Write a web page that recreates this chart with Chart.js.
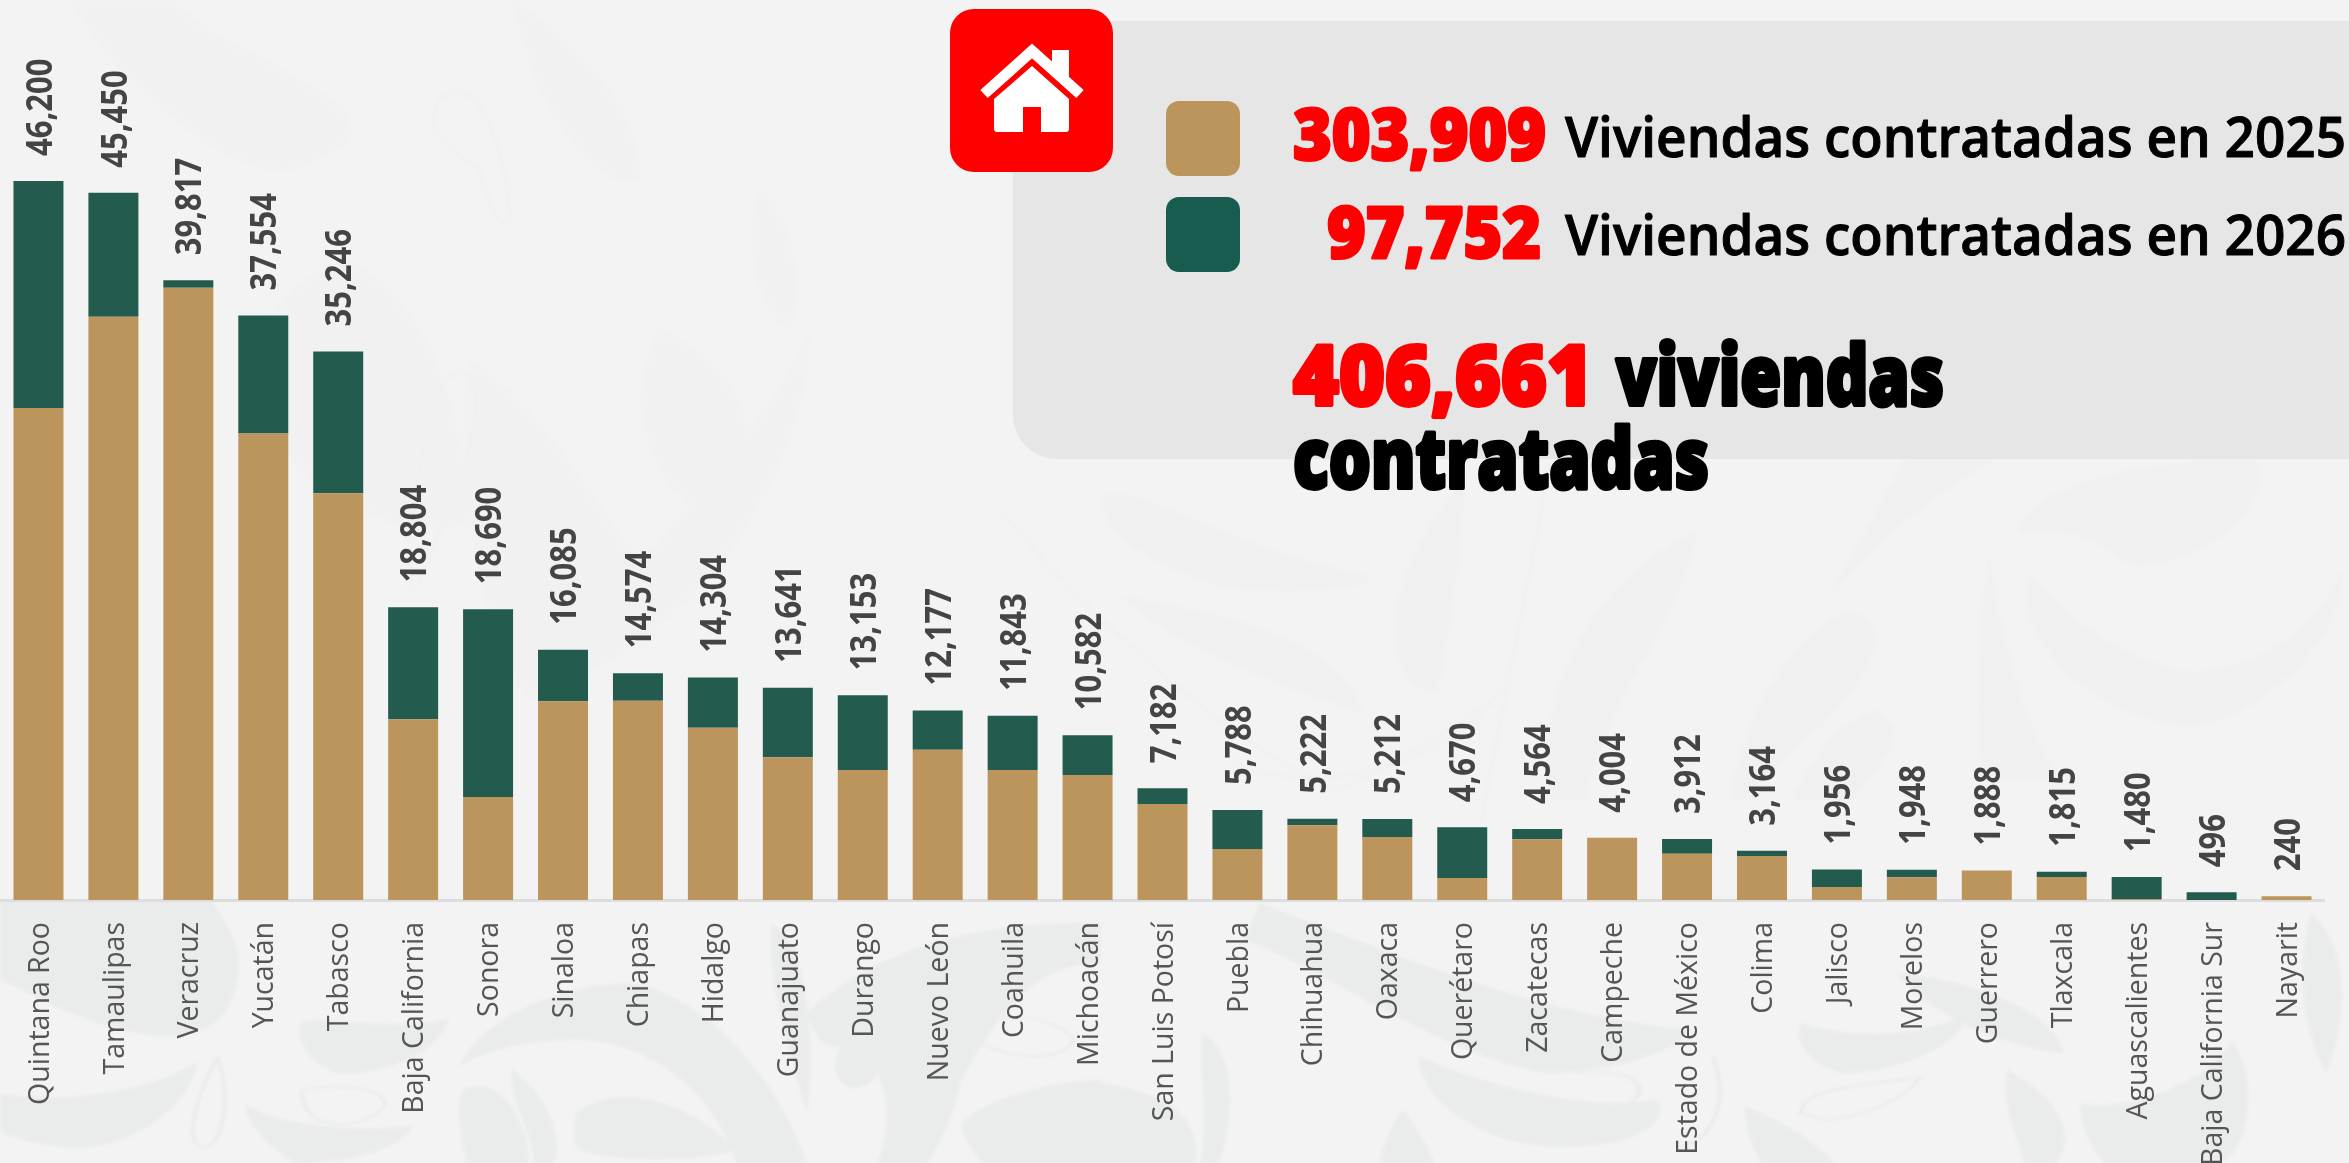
<!DOCTYPE html>
<html lang="es">
<head>
<meta charset="utf-8">
<title>Viviendas contratadas</title>
<script src="https://cdn.jsdelivr.net/npm/chart.js@4"></script>
<style>
html,body{margin:0;padding:0;background:#f3f3f3;overflow:hidden}
#stage{position:relative;width:2349px;height:1163px;overflow:hidden;background:#f3f3f3}
#stage svg,#stage canvas{position:absolute;left:0;top:0}
</style>
</head>
<body>
<div id="stage">
<svg id="bg" width="2349" height="1163" viewBox="0 0 2349 1163" aria-hidden="true">
  <defs><filter id="soft" x="-5%" y="-5%" width="110%" height="110%"><feGaussianBlur stdDeviation="1.5"/></filter></defs>
  <g filter="url(#soft)">
  <g fill="#f1f1f1" stroke="none">
    <path d="M210 30C320 90 420 130 290 170C220 180 100 60 70 0H170Z"/>
    <path d="M515 0C600 60 640 120 640 180C600 200 520 90 515 0Z"/>
    <path d="M350 260C420 300 460 380 470 520C400 560 250 460 250 380C260 310 300 270 350 260Z"/>
    <path d="M470 360C560 420 600 520 640 560C700 500 780 400 810 330C810 470 700 640 530 700C480 640 450 470 470 360Z"/>
    <path d="M660 330C740 360 780 450 720 520C650 500 620 400 660 330Z"/>
    <path d="M760 190C800 220 800 300 790 330C760 320 740 240 760 190Z"/>
  </g>
  <g fill="none" stroke="#f0f0f0" stroke-width="2.5">
    <path d="M440 100C470 70 500 120 510 215C505 235 490 215 480 170C450 150 420 130 440 100Z"/>
    <path d="M460 372C490 380 480 440 420 580C400 620 410 500 430 420C440 390 445 372 460 372Z"/>
    <path d="M1000 510C1100 630 1250 760 1340 790C1400 760 1500 700 1500 690C1450 770 1300 800 1230 760"/>
    <path d="M1550 460C1520 640 1480 800 1470 900"/>
  </g>
  <g transform="translate(1000 440) scale(.8603 .3333)" fill="#f0f0f0">
    <path d="M120 170C170 130 240 300 430 410C430 450 330 470 260 440C170 380 110 260 120 170Z"/>
    <path d="M140 470C260 510 410 620 420 820C350 760 200 620 140 470Z"/>
    <path d="M460 600C450 400 520 160 540 130C540 300 520 600 510 750C480 770 460 680 460 600Z"/>
    <path d="M640 1080C620 700 700 400 810 275C800 500 700 800 680 1080Z"/>
    <path d="M850 1080C860 800 940 530 990 515C1040 540 1020 700 950 870C900 950 880 1080 880 1080Z"/>
    <path d="M920 1080C950 900 1000 810 1020 815C1060 870 1030 960 990 1080Z"/>
    <path d="M1195 400C1230 500 1310 690 1390 695C1470 680 1530 560 1560 390C1570 600 1450 860 1380 860C1280 840 1170 600 1195 400Z"/>
    <path d="M1185 275C1190 130 1350 50 1460 60C1480 220 1400 360 1320 380C1280 330 1270 260 1185 275Z"/>
    <path d="M1140 1000C1130 800 1140 500 1150 330C1160 600 1200 900 1230 1015C1190 1020 1160 1020 1140 1000Z"/>
    <path d="M1200 0C1100 120 1020 300 960 480C1000 300 1040 120 1060 0Z"/>
  </g>
  <g transform="translate(0 780) scale(.7017 .3333)" fill="#eaebeb">
    <path d="M0 360H300C330 440 345 520 340 580C330 700 310 760 240 770C130 760 30 620 0 600Z"/>
    <path d="M0 940C100 980 230 920 280 845C280 950 200 1100 110 1105C50 1100 0 1060 0 1050Z"/>
    <path d="M350 975C400 1040 520 1060 590 1035C570 1110 500 1149 420 1149C380 1100 350 1020 350 975Z"/>
    <path d="M430 730C450 700 560 760 640 715C630 800 560 890 480 880C440 850 420 780 430 730Z"/>
    <path d="M655 860C680 730 790 610 900 610C990 640 1100 850 1150 1149H1050C1030 1000 950 780 820 780C740 780 680 820 655 860Z"/>
    <path d="M660 930C700 890 745 960 755 1149H665C655 1060 650 980 660 930Z"/>
    <path d="M730 870C790 960 800 1090 790 1149H760C760 1050 720 950 730 870Z"/>
    <path d="M820 1000C880 900 980 960 1050 1110C1000 1149 850 1149 820 1100Z"/>
    <path d="M1150 700C1250 500 1400 420 1568 430V550C1450 550 1400 800 1370 900C1360 1000 1340 1100 1320 1149H1250C1280 1000 1260 800 1190 800C1170 800 1160 760 1150 700Z"/>
    <path d="M1190 870C1195 700 1250 780 1250 880C1240 930 1200 950 1190 870Z"/>
    <path d="M1370 1030C1400 960 1500 900 1568 900V1149H1400C1380 1100 1370 1060 1370 1030Z"/>
    <path d="M1100 430C1150 480 1165 800 1150 1000C1130 850 1090 600 1100 430Z"/>
  </g>
  <g transform="translate(0 780) scale(.7017 .3333)" fill="none" stroke="#e9eaea" stroke-width="5">
    <path d="M310 830C330 950 320 1090 290 1105C260 1090 280 950 310 830Z"/>
    <path d="M430 930C520 900 580 950 530 1010C480 1060 430 1030 430 930Z"/>
    <path d="M1370 750C1420 690 1500 700 1530 780C1520 840 1430 860 1370 750Z"/>
  </g>
  <g transform="translate(1100 780) scale(.7966 .3333)" fill="#eaebeb">
    <path d="M200 370C300 450 520 700 740 750C720 830 620 880 560 880C420 820 280 560 180 480Z"/>
    <path d="M400 830C470 900 600 1000 700 960C720 1050 650 1110 560 1100C470 1080 400 950 400 830Z"/>
    <path d="M880 730C960 790 1040 760 1090 700C1080 800 1000 880 930 880C890 850 870 790 880 730Z"/>
    <path d="M0 910C70 930 130 1000 120 1149H0Z"/>
    <path d="M130 760C170 820 170 1000 150 1149H125C140 1000 120 850 130 760Z"/>
    <path d="M380 990C400 1040 420 1149 420 1149H350C360 1060 370 1020 380 990Z"/>
    <path d="M810 980C840 1000 910 1100 920 1149H830C810 1060 810 1020 810 980Z"/>
    <path d="M1140 870C1200 950 1230 1060 1200 1149H1160C1150 1060 1130 970 1140 870Z"/>
    <path d="M1230 970C1290 1000 1400 900 1420 780C1460 900 1440 1149 1400 1149H1260C1240 1090 1230 1030 1230 970Z"/>
    <path d="M1000 580C1100 600 1200 700 1210 820C1130 800 1040 700 1000 580Z"/>
    <path d="M1520 400C1568 500 1568 700 1540 880C1510 760 1500 560 1520 400Z"/>
  </g>
  <g transform="translate(1100 780) scale(.7966 .3333)" fill="none" stroke="#e9eaea" stroke-width="5">
    <path d="M880 1000C880 920 960 920 1030 890C1010 960 960 1010 910 1020Z"/>
    <path d="M600 880C680 860 700 940 650 990"/>
    <path d="M770 830C790 960 770 1080 730 1100"/>
  </g>
  </g>
</svg>

<svg id="panel" width="2349" height="1163" viewBox="0 0 2349 1163" aria-hidden="true">
  <rect x="1013" y="21" width="1400" height="438" rx="44" ry="44" fill="#e6e6e6"/>
</svg>

<canvas id="chart" width="2349" height="1163"></canvas>

<svg id="overlay" width="2349" height="1163" viewBox="0 0 2349 1163" font-family="'Open Sans'">
  <rect x="950" y="9" width="163" height="163" rx="24" ry="24" fill="#ff0000"/>
  <path d="M984 94L1032 51L1080 94" fill="none" stroke="#fff" stroke-width="11"/>
  <path d="M1052 50H1069V85L1052 70Z" fill="#fff"/>
  <path d="M1032 66L1069 99V129Q1069 132 1066 132H1041V107H1023V132H997Q994 132 994 129V99Z" fill="#fff"/>
  <rect x="1166" y="101" width="74" height="75" rx="13" ry="13" fill="#bc955c"/>
  <rect x="1166" y="197" width="74" height="75" rx="13" ry="13" fill="#185c4f"/>
  <g id="txt"></g>
</svg>
</div>

<script>
const categories = ["Quintana Roo","Tamaulipas","Veracruz","Yucatán","Tabasco","Baja California","Sonora","Sinaloa","Chiapas","Hidalgo","Guanajuato","Durango","Nuevo León","Coahuila","Michoacán","San Luis Potosí","Puebla","Chihuahua","Oaxaca","Querétaro","Zacatecas","Campeche","Estado de México","Colima","Jalisco","Morelos","Guerrero","Tlaxcala","Aguascalientes","Baja California Sur","Nayarit"];
const viviendas2025 = [31610,37470,39340,29970,26130,11610,6620,12767,12808,11074,9168,8354,9660,8354,8033,6169,3277,4799,4048,1414,3899,4004,2976,2827,835,1457,1888,1478,64,0,240];
const viviendas2026 = [14590,7980,477,7584,9116,7194,12070,3318,1766,3230,4473,4799,2517,3489,2549,1013,2511,423,1164,3256,665,0,936,337,1121,491,0,337,1416,496,0];
const totales = [46200,45450,39817,37554,35246,18804,18690,16085,14574,14304,13641,13153,12177,11843,10582,7182,5788,5222,5212,4670,4564,4004,3912,3164,1956,1948,1888,1815,1480,496,240];
const resumen2025 = "303,909";
const resumen2026 = "97,752";
const resumenTotal = "406,661";
const etiqueta2025 = "Viviendas contratadas en 2025";
const etiqueta2026 = "Viviendas contratadas en 2026";

const NS = "http://www.w3.org/2000/svg";
function addText(str, x, y, size, weight, fill, width, stroke){
  const t = document.createElementNS(NS,"text");
  t.textContent = str;
  t.setAttribute("x",x); t.setAttribute("y",y);
  t.setAttribute("font-size",size); t.setAttribute("font-weight",weight);
  t.setAttribute("fill",fill);
  t.setAttribute("textLength",width); t.setAttribute("lengthAdjust","spacingAndGlyphs");
  if(stroke){ t.setAttribute("stroke",fill); t.setAttribute("stroke-width",stroke); t.setAttribute("stroke-linejoin","round"); }
  document.getElementById("txt").appendChild(t);
}
addText(resumen2025,1293,160,70,800,"#ff0000",253,3);
addText(etiqueta2025,1565,157,56,600,"#000000",781,1);
addText(resumen2026,1327,258,70,800,"#ff0000",214,3);
addText(etiqueta2026,1565,255,56,600,"#000000",781,1);
addText(resumenTotal,1293,405,84,800,"#ff0000",300,4);
addText("viviendas",1616,405,84,800,"#000000",328,4);
addText("contratadas",1293,488,84,800,"#000000",416,4);

const totalLabels = {
  id:"totalLabels",
  afterDatasetsDraw(chart){
    const {ctx, scales:{x,y}} = chart;
    ctx.save();
    ctx.fillStyle = "#444444";
    ctx.font = "700 31px 'Open Sans'";
    ctx.textAlign = "left";
    ctx.textBaseline = "middle";
    totales.forEach((v,i)=>{
      ctx.save();
      ctx.translate(x.getPixelForValue(i)+3, y.getPixelForValue(v)-25);
      ctx.rotate(-Math.PI/2);
      ctx.scale(1,1.15);
      ctx.fillText(v.toLocaleString("en-US"),0,0);
      ctx.restore();
    });
    ctx.restore();
  }
};

new Chart(document.getElementById("chart"),{
  type:"bar",
  data:{labels:categories,datasets:[
    {label:etiqueta2025,data:viviendas2025,backgroundColor:"#bc955c",stack:"s"},
    {label:etiqueta2026,data:viviendas2026,backgroundColor:"#235b4e",stack:"s"}
  ]},
  options:{
    responsive:false,animation:false,
    layout:{padding:{left:1,right:25,top:0,bottom:0}},
    datasets:{bar:{barPercentage:.667,categoryPercentage:1,borderWidth:0}},
    plugins:{legend:{display:false},tooltip:{enabled:false}},
    scales:{
      x:{
        stacked:true,
        grid:{display:false,drawTicks:false},
        border:{display:true,color:"#dddddd",width:3},
        afterFit(s){s.height=263;},
        ticks:{autoSkip:false,minRotation:90,maxRotation:90,padding:22,labelOffset:2,color:"#555555",font:{family:"'Open Sans'",size:28.5}}
      },
      y:{stacked:true,display:false,min:0,max:57830,grid:{display:false}}
    }
  },
  plugins:[totalLabels]
});
</script>
</body>
</html>
